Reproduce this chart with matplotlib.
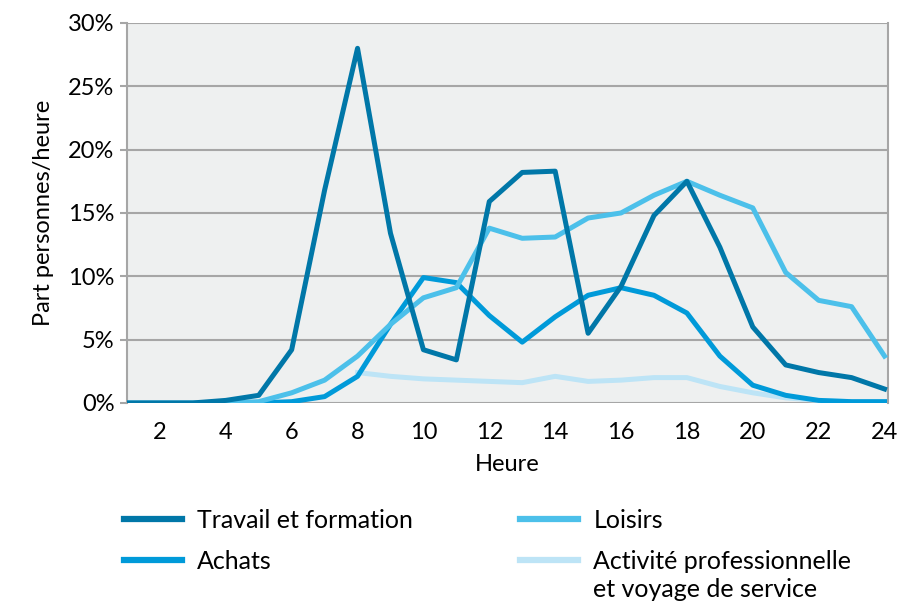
import numpy as np
import matplotlib
matplotlib.use('Agg')
import matplotlib.pyplot as plt
from matplotlib.ticker import PercentFormatter

heures = list(range(1, 25))

travail = [0, 0, 0, 0.2, 0.6, 4.2, 16.8, 28.0, 13.4, 4.2, 3.4, 15.9,
           18.2, 18.3, 5.5, 9.2, 14.8, 17.5, 12.3, 6.0, 3.0, 2.4, 2.0, 1.1]
achats = [np.nan, np.nan, np.nan, np.nan, 0.0, 0.1, 0.5, 2.1, 6.2, 9.9, 9.5, 6.9,
          4.8, 6.8, 8.5, 9.1, 8.5, 7.1, 3.7, 1.4, 0.6, 0.2, 0.1, 0.1]
loisirs = [0, 0, 0, 0, 0.1, 0.8, 1.8, 3.7, 6.2, 8.3, 9.1, 13.8,
           13.0, 13.1, 14.6, 15.0, 16.4, 17.5, 16.4, 15.4, 10.3, 8.1, 7.6, 3.7]
activite = [np.nan] * 7 + [2.4, 2.1, 1.9, 1.8, 1.7,
                           1.6, 2.1, 1.7, 1.8, 2.0, 2.0, 1.3, 0.8, 0.4, 0.2, 0.1, 0.1]

labels = ['Travail et formation', 'Achats', 'Loisirs', 'Activité professionnelle']
colors = ['#0077a8', '#009ad9', '#4cc0ea', '#bde4f6']

plt.rcParams['font.family'] = ['Lato', 'DejaVu Sans']

fig = plt.figure(figsize=(9.09, 6.05), dpi=100)
ax = fig.add_axes([0.1397, 0.334, 0.837, 0.628])
ax.set_facecolor('#eef0f0')

# lighter ones behind
ax.plot(heures, activite, color=colors[3], lw=3.6, label=labels[3], zorder=2)
ax.plot(heures, achats, color=colors[1], lw=3.6, label=labels[1], zorder=3)
ax.plot(heures, loisirs, color=colors[2], lw=3.6, label=labels[2], zorder=3)
ax.plot(heures, travail, color=colors[0], lw=3.6, label=labels[0], zorder=4)

ax.set_xlim(1, 24.1)
ax.set_ylim(0, 30)
ax.set_xticks(range(2, 25, 2))
ax.set_yticks(range(0, 31, 5))
ax.yaxis.set_major_formatter(PercentFormatter(decimals=0))
ax.yaxis.grid(True, color='#a6a6a6', lw=1.5)
ax.set_axisbelow(True)
for s in ['top', 'bottom']:
    ax.spines[s].set_visible(False)
for s in ['left', 'right']:
    ax.spines[s].set_color('#a6a6a6')
    ax.spines[s].set_linewidth(1.5)
ax.tick_params(axis='y', length=5, color='#a6a6a6', width=1.5, labelsize=17, pad=4)
ax.tick_params(axis='x', length=0, labelsize=17, pad=14)
ax.set_xlabel('Heure', fontsize=17, labelpad=8)
ax.set_ylabel('Part personnes/heure', fontsize=17, labelpad=10)

h, l = ax.get_legend_handles_labels()
order = [l.index(x) for x in labels]
leg = fig.legend([h[i] for i in order], [l[i] for i in order], ncol=2,
                 loc='upper left', bbox_to_anchor=(0.125, 0.175), frameon=False,
                 fontsize=18, handlelength=2.35, handletextpad=0.6,
                 columnspacing=4.25, labelspacing=0.7, borderaxespad=0)
for line in leg.get_lines():
    line.set_linewidth(4.5)
fig.text(0.652, 0.025, 'et voyage de service', fontsize=18, va='center')

plt.savefig('out.png', dpi=100)
